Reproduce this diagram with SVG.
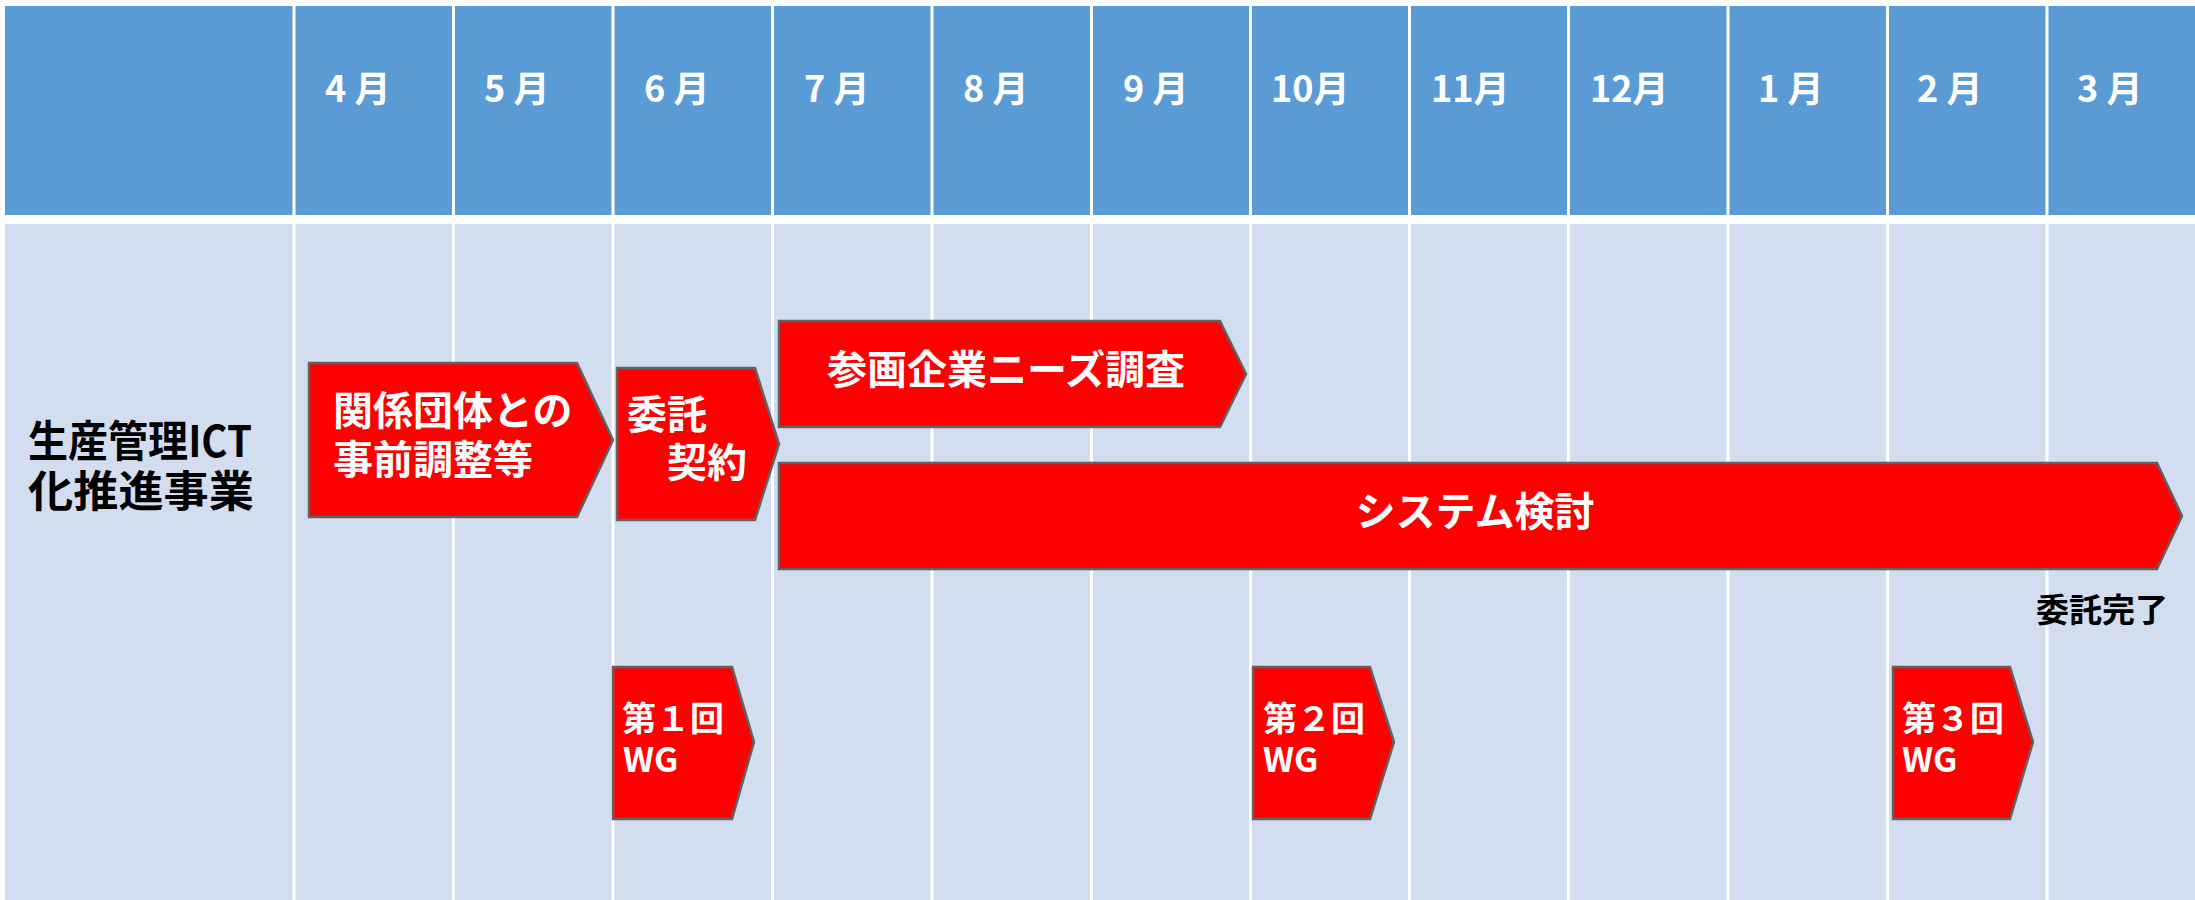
<svg xmlns="http://www.w3.org/2000/svg" width="2195" height="900" viewBox="0 0 2195 900">
<style>
.hdr{fill:#5B9BD5}
.body{fill:#D2DEEF}
.sep{stroke:#FFFFFF;stroke-width:3}
.mon{font-family:"Noto Sans CJK JP","Noto Sans",sans-serif;font-weight:700;font-size:36px;fill:#FFFFFF}
.bar{fill:#FF0000;stroke:#5F6366;stroke-width:2.5;stroke-linejoin:miter}
.bt{font-family:"Noto Sans CJK JP","Noto Sans",sans-serif;font-weight:700;font-size:40px;fill:#FFFFFF}
.wt{font-family:"Noto Sans CJK JP","Noto Sans",sans-serif;font-weight:700;font-size:34px;fill:#FFFFFF}
.lbl{font-family:"Noto Sans CJK JP","Noto Sans",sans-serif;font-weight:700;font-size:43px;fill:#000000}
.note{font-family:"Noto Sans CJK JP","Noto Sans",sans-serif;font-weight:700;font-size:33px;fill:#000000}
</style>
<rect x="0" y="0" width="2195" height="900" fill="#FFFFFF"/>
<g id="grid">
<rect class="hdr" x="5" y="6" width="2190" height="209"/>
<rect class="body" x="5" y="224" width="2190" height="676"/>
<g class="sep">
<line x1="294" y1="0" x2="294" y2="900"/>
<line x1="453.5" y1="0" x2="453.5" y2="900"/>
<line x1="613" y1="0" x2="613" y2="900"/>
<line x1="772.5" y1="0" x2="772.5" y2="900"/>
<line x1="932" y1="0" x2="932" y2="900"/>
<line x1="1091.5" y1="0" x2="1091.5" y2="900"/>
<line x1="1250.5" y1="0" x2="1250.5" y2="900"/>
<line x1="1409.5" y1="0" x2="1409.5" y2="900"/>
<line x1="1568.5" y1="0" x2="1568.5" y2="900"/>
<line x1="1728" y1="0" x2="1728" y2="900"/>
<line x1="1887.5" y1="0" x2="1887.5" y2="900"/>
<line x1="2047" y1="0" x2="2047" y2="900"/>
</g>
</g>
<g id="months">
<text class="mon" x="325" y="102">4 月</text>
<text class="mon" x="484" y="102">5 月</text>
<text class="mon" x="644" y="102">6 月</text>
<text class="mon" x="804" y="102">7 月</text>
<text class="mon" x="963" y="102">8 月</text>
<text class="mon" x="1123" y="102">9 月</text>
<text class="mon" x="1271" y="102">10月</text>
<text class="mon" x="1431" y="102">11月</text>
<text class="mon" x="1590" y="102">12月</text>
<text class="mon" x="1758" y="102">1 月</text>
<text class="mon" x="1917" y="102">2 月</text>
<text class="mon" x="2077" y="102">3 月</text>
</g>
<g id="row-label">
<text class="lbl" x="28" y="457" textLength="224" lengthAdjust="spacingAndGlyphs">生産管理ICT</text>
<text class="lbl" x="28" y="507" textLength="226" lengthAdjust="spacingAndGlyphs">化推進事業</text>
</g>
<g id="connectors"></g>
<g id="task-preparation">
<path class="bar" d="M309,363 H577 L613,440 L577,517 H309 Z"/>
<text class="bt" x="333" y="425">関係団体との</text>
<text class="bt" x="333" y="474">事前調整等</text>
</g>
<g id="task-contract">
<path class="bar" d="M617,368 H755 L779,444 L755,520 H617 Z"/>
<text class="bt" x="627" y="429">委託</text>
<text class="bt" x="667" y="477">契約</text>
</g>
<g id="task-survey">
<path class="bar" d="M779,321 H1220 L1246,374 L1220,427 H779 Z"/>
<text class="bt" x="1006" y="384" text-anchor="middle">参画企業ニーズ調査</text>
</g>
<g id="task-system">
<path class="bar" d="M779,463 H2157 L2182,516 L2157,569 H779 Z"/>
<text class="bt" x="1475" y="526" text-anchor="middle">システム検討</text>
</g>
<g id="note-complete">
<text class="note" x="2036" y="622">委託完了</text>
</g>
<g id="wg1">
<path class="bar" d="M613,667 H732 L754,742 L732,819 H613 Z"/>
<text class="wt" x="622" y="731">第１回</text>
<text class="wt" x="623" y="772">WG</text>
</g>
<g id="wg2">
<path class="bar" d="M1253,667 H1370 L1394,742 L1370,819 H1253 Z"/>
<text class="wt" x="1263" y="731">第２回</text>
<text class="wt" x="1263" y="772">WG</text>
</g>
<g id="wg3">
<path class="bar" d="M1893,667 H2010 L2033,742 L2010,819 H1893 Z"/>
<text class="wt" x="1902" y="731">第３回</text>
<text class="wt" x="1902" y="772">WG</text>
</g>
</svg>
